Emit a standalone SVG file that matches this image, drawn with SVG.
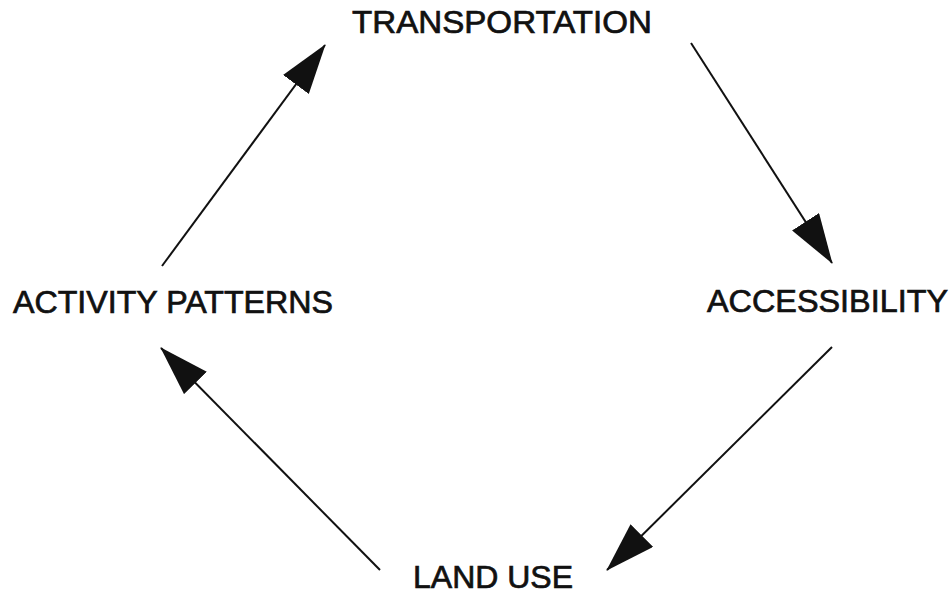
<svg xmlns="http://www.w3.org/2000/svg" width="952" height="596" viewBox="0 0 952 596">
<style>
.lbl{font-family:"Liberation Sans",Arial,sans-serif;font-size:32px;fill:#111;stroke:#111;stroke-width:0.7px}
.edge{stroke:#111;stroke-width:2;fill:none;marker-end:url(#ah)}
</style>
<defs>
<marker id="ah" markerUnits="userSpaceOnUse" markerWidth="50" markerHeight="32" viewBox="0 0 50 32" refX="49" refY="16" orient="auto">
<path d="M0,0 L50,16 L0,32 z" fill="#111"/>
</marker>
</defs>
<rect width="952" height="596" fill="#fff"/>
<g id="connectors">
<line class="edge" x1="162" y1="266" x2="325" y2="45"/>
<line class="edge" x1="691" y1="43" x2="832" y2="263"/>
<line class="edge" x1="832" y1="347" x2="607" y2="570"/>
<line class="edge" x1="380" y1="570" x2="161" y2="348"/>
</g>
<g id="transportation"><text class="lbl" x="352" y="33" textLength="300" lengthAdjust="spacingAndGlyphs">TRANSPORTATION</text></g>
<g id="accessibility"><text class="lbl" x="707" y="312" textLength="241" lengthAdjust="spacingAndGlyphs">ACCESSIBILITY</text></g>
<g id="land-use"><text class="lbl" x="413" y="588" textLength="160" lengthAdjust="spacingAndGlyphs">LAND USE</text></g>
<g id="activity-patterns"><text class="lbl" x="13" y="313" textLength="320" lengthAdjust="spacingAndGlyphs">ACTIVITY PATTERNS</text></g>
</svg>
